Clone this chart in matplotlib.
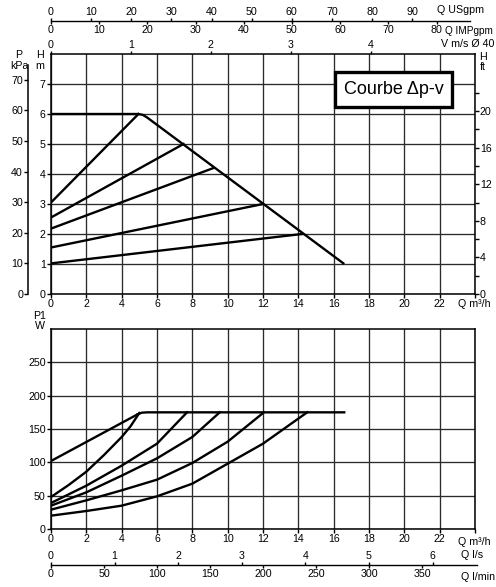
# plot.py
#   circulator pump chart, "Courbe dp-v" : head curves on top, power P1 below
#   extra flow scales (USgpm, IMPgpm, m/s, l/s, l/min) drawn as bare axes

from matplotlib import pyplot as plt
from matplotlib.patches import Rectangle

W_PX, H_PX = 496, 587
FONT = ['Liberation Sans', 'DejaVu Sans']
FS = 7.7
LW_CURVE = 1.7
LW_GRID = 0.95
GRID_COL = '#2b2b2b'
TICK_LEN = 2.6          # points

# --- head curves, Q in m3/h, H in m -----------------------------------
Q_MAX = [0, 4.95, 5.2, 5.45, 5.7, 16.6]          # max curve with rounded knee
H_MAX = [6.0, 6.0, 5.97, 5.88, 5.77, 1.0]

Q_DPV_END   = [4.95, 7.5, 9.2, 12.0, 14.2]         # dp-v lines start at Q=0
H_DPV_START = [3.05, 2.55, 2.18, 1.55, 1.02]
H_DPV_END   = [6.0, 5.0, 4.2, 3.0, 2.0]

# --- power curves, Q in m3/h, P1 in W ---------------------------------
P_Q1 = [0, 4.9]
P_W1 = [102, 172]
P_Q2 = [0, 1, 2, 3, 4, 4.5, 5.0]
P_W2 = [48, 66, 86, 111, 138, 154, 174]
P_Q3 = [0, 2, 4, 6, 7.7]
P_W3 = [39, 65, 95, 128, 175]
P_Q4 = [0, 2, 4, 6, 8, 9.55]
P_W4 = [35, 55, 80, 106, 138, 175]
P_Q5 = [0, 2, 4, 6, 8, 10, 12.05]
P_W5 = [29, 43, 58, 74, 99, 131, 175]
P_Q6 = [0, 2, 4, 6, 8, 10, 12, 14.5]
P_W6 = [20, 27, 35, 49, 68, 98, 128, 175]
P_QF = [4.9, 5.15, 5.45, 16.6]                     # flat limit
P_WF = [172, 174.5, 175, 175]

# --- axis ticks ---------------------------------------------------------
Q_TICKS   = list(range(0, 25, 2))
H_TICKS   = list(range(0, 8))
KPA_TICKS = list(range(0, 71, 10))
FT_TICKS  = list(range(0, 21, 4))
FT_MINOR  = list(range(2, 23, 4))
W_TICKS   = list(range(0, 251, 50))
US_TICKS  = list(range(0, 91, 10))
IMP_TICKS = list(range(0, 81, 10))
V_TICKS   = [0, 1, 2, 3, 4]
LS_TICKS  = [0, 1, 2, 3, 4, 5, 6]
LMIN_TICKS = list(range(0, 351, 50))

# unit conversions -> m3/h (or m)
US_M3H   = 0.227125
IMP_M3H  = 0.272765
V40_M3H  = 3600 * 3.14159265 * 0.02 ** 2      # 1 m/s in a DN40 pipe
LS_M3H   = 3.6
LMIN_M3H = 0.06
KPA_PER_M = 9.80665
FT_PER_M  = 1 / 0.3048

H_TOP = 8.0
W_TOP = 300


def add_axes_px(fig, x0, y0, x1, y1):
    '''axes placed by pixel box (origin top-left)'''
    return fig.add_axes([x0 / W_PX, 1 - y1 / H_PX, (x1 - x0) / W_PX, (y1 - y0) / H_PX])


def ftext(fig, x, y, s, **kw):
    kw.setdefault('fontsize', FS)
    kw.setdefault('va', 'center')
    fig.text(x / W_PX, 1 - y / H_PX, s, **kw)


def bare(ax):
    ax.patch.set_visible(False)
    for s in ax.spines.values():
        s.set_visible(False)


def aux_scale(fig, y, up_ticks, up_conv, dn_ticks, dn_conv, end):
    '''a single line with one unit ticked upward and another downward'''
    ax_up = add_axes_px(fig, 51, y - 0.01, 475, y)
    ax_dn = add_axes_px(fig, 51, y - 0.01, 475, y)
    for ax in (ax_up, ax_dn):
        bare(ax)
        ax.set_xlim(0, 24)
        ax.set_ylim(0, 1)
        ax.set_yticks([])
    ax_up.spines['top'].set_visible(True)
    ax_up.spines['top'].set_bounds(0, end)
    ax_up.spines['top'].set_linewidth(1.0)
    ax_up.xaxis.set_ticks_position('top')
    ax_up.set_xticks([t * up_conv for t in up_ticks], [str(t) for t in up_ticks])
    ax_dn.xaxis.set_ticks_position('bottom')
    ax_dn.set_xticks([t * dn_conv for t in dn_ticks], [str(t) for t in dn_ticks])
    for ax in (ax_up, ax_dn):
        ax.tick_params(axis='x', direction='out', length=2.2, width=1.0, pad=0.8,
                       labelsize=FS)


def style_main(ax, ymax, yticks):
    ax.set_xlim(0, 24)
    ax.set_ylim(0, ymax)
    ax.set_xticks(Q_TICKS, [str(q) if q < 24 else '' for q in Q_TICKS])
    ax.set_yticks(yticks)
    ax.grid(True, color=GRID_COL, lw=LW_GRID)
    ax.set_axisbelow(True)
    for s in ax.spines.values():
        s.set_linewidth(1.1)
    ax.tick_params(direction='out', length=TICK_LEN, width=1.0, pad=1.2, labelsize=FS)


def make_plot():
    plt.rcParams['font.family'] = FONT
    fig = plt.figure(figsize=(W_PX / 100, H_PX / 100), dpi=100)

    # ---- head chart ----
    ax1 = add_axes_px(fig, 51, 54, 475, 294)
    style_main(ax1, H_TOP, H_TICKS)
    ax1.plot(Q_MAX, H_MAX, color='k', lw=LW_CURVE, solid_capstyle='butt', zorder=3)
    for qe, hs, he in zip(Q_DPV_END, H_DPV_START, H_DPV_END):
        ax1.plot([0, qe], [hs, he], color='k', lw=LW_CURVE, zorder=3)

    ax1.add_patch(Rectangle((16.08, 6.23), 22.7 - 16.08, 7.4 - 6.23, fc='white',
                            ec='black', lw=2.4, zorder=4))
    ax1.text(19.38, 6.8, 'Courbe \u0394p-v', ha='center', va='center', fontsize=13,
             zorder=5)

    # velocity ticks on the top frame
    ax_v = ax1.twiny()
    bare(ax_v)
    ax_v.set_xlim(0, 24)
    ax_v.set_xticks([v * V40_M3H for v in V_TICKS], [str(v) for v in V_TICKS])
    ax_v.tick_params(axis='x', direction='out', length=2.2, width=1.0, pad=0.5,
                     labelsize=FS)

    # feet on the right
    ax_ft = ax1.twinx()
    bare(ax_ft)
    ax_ft.set_ylim(0, H_TOP * FT_PER_M)
    ax_ft.set_yticks(FT_TICKS)
    ax_ft.set_yticks(FT_MINOR, minor=True)
    ax_ft.tick_params(axis='y', which='both', direction='out', length=TICK_LEN,
                      width=1.0, pad=0.8, labelsize=FS)

    # kPa scale on its own line left of the chart
    ax_k = add_axes_px(fig, 28, 54, 29, 294)
    bare(ax_k)
    ax_k.spines['left'].set_visible(True)
    ax_k.spines['left'].set_linewidth(1.1)
    ax_k.spines['left'].set_bounds(0, 75)
    ax_k.set_ylim(0, H_TOP * KPA_PER_M)
    ax_k.set_xticks([])
    ax_k.set_yticks(KPA_TICKS)
    ax_k.tick_params(axis='y', direction='out', length=TICK_LEN, width=1.0, pad=1,
                     labelsize=FS)

    # ---- power chart ----
    ax2 = add_axes_px(fig, 51, 329, 475, 529)
    style_main(ax2, W_TOP, W_TICKS)
    for q, w in [(P_Q1, P_W1), (P_Q2, P_W2), (P_Q3, P_W3), (P_Q4, P_W4),
                 (P_Q5, P_W5), (P_Q6, P_W6), (P_QF, P_WF)]:
        ax2.plot(q, w, color='k', lw=LW_CURVE, zorder=3)

    # ---- extra flow scales ----
    aux_scale(fig, 21, US_TICKS, US_M3H, IMP_TICKS, IMP_M3H, 23.7)
    aux_scale(fig, 565, LS_TICKS, LS_M3H, LMIN_TICKS, LMIN_M3H, 24.1)

    # ---- unit labels ----
    ftext(fig, 437, 10, 'Q USgpm')
    ftext(fig, 445, 31, 'Q IMPgpm', fontsize=7.2)
    ftext(fig, 494, 44, 'V m/s \u00d8 40', ha='right')
    ftext(fig, 19, 55, 'P', ha='center')
    ftext(fig, 19, 66, 'kPa', ha='center')
    ftext(fig, 40, 55, 'H', ha='center')
    ftext(fig, 40, 66, 'm', ha='center')
    ftext(fig, 479, 57, 'H')
    ftext(fig, 480, 67, 'ft')
    ftext(fig, 458, 304, 'Q m\u00b3/h')
    ftext(fig, 40, 316, 'P1', ha='center')
    ftext(fig, 40, 326, 'W', ha='center')
    ftext(fig, 458, 542, 'Q m\u00b3/h')
    ftext(fig, 461, 555, 'Q l/s')
    ftext(fig, 461, 577, 'Q l/min')

    fig.savefig('out.png', dpi=100)


if __name__ == '__main__':
    make_plot()
